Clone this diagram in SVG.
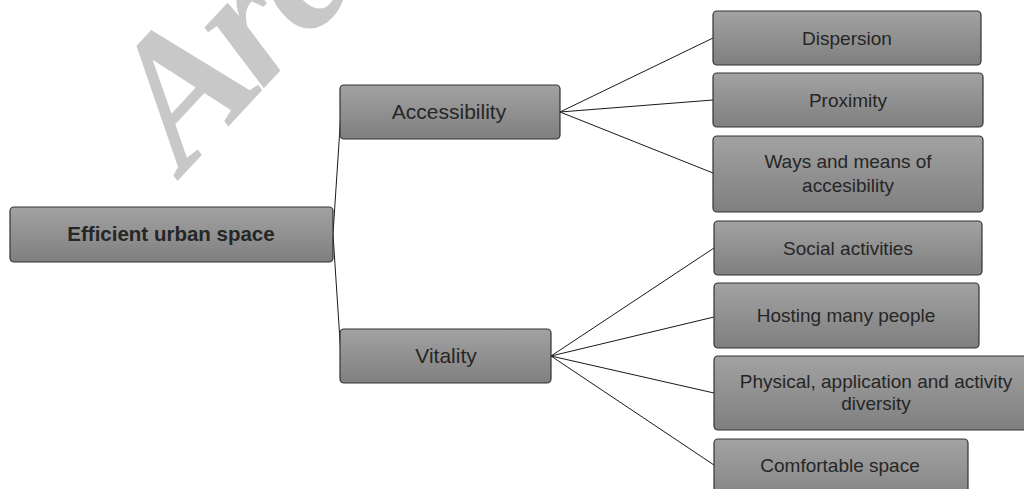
<svg xmlns="http://www.w3.org/2000/svg" width="1024" height="489" viewBox="0 0 1024 489">
<defs>
<linearGradient id="g" x1="0" y1="0" x2="0" y2="1">
<stop offset="0" stop-color="#a2a2a2"/>
<stop offset="1" stop-color="#7f7f7f"/>
</linearGradient>
<style>
.box{fill:url(#g);stroke:#333;stroke-width:1.2}
.t{font-family:"Liberation Sans",Arial,sans-serif;fill:#262626;text-anchor:middle}
.c{font-size:19px}
.m{font-size:21px}
.r{font-size:20.5px;font-weight:bold}
.ln{stroke:#1a1a1a;stroke-width:1;fill:none}
.wm{font-family:"Liberation Serif","Times New Roman",serif;font-weight:bold;font-style:italic;font-size:185px;fill:#c8c8c8}
</style>
</defs>
<rect width="1024" height="489" fill="#fff"/>
<text class="wm" transform="translate(184,174) rotate(-47)">A<tspan dx="-10">r</tspan><tspan dx="-4">c</tspan></text>
<g id="connectors">
<path class="ln" d="M333,234 L341,112 M333,234 L341,356"/>
<path class="ln" d="M560,112 L713,38 M560,112 L713,100 M560,112 L713,173"/>
<path class="ln" d="M551,356 L714,248 M551,356 L714,317 M551,356 L714,393 M551,356 L714,465"/>
</g>
<g id="root">
<rect class="box" x="10" y="207" width="323" height="55" rx="4"/>
<text class="t r" x="171" y="241">Efficient urban space</text>
</g>
<g id="accessibility">
<rect class="box" x="340" y="85" width="220" height="54" rx="4"/>
<text class="t m" x="449" y="119">Accessibility</text>
</g>
<g id="vitality">
<rect class="box" x="340" y="329" width="211" height="54" rx="4"/>
<text class="t m" x="446" y="363">Vitality</text>
</g>
<g id="dispersion">
<rect class="box" x="713" y="11" width="268" height="54" rx="4"/>
<text class="t c" x="847" y="45">Dispersion</text>
</g>
<g id="proximity">
<rect class="box" x="713" y="73" width="270" height="54" rx="4"/>
<text class="t c" x="848" y="107">Proximity</text>
</g>
<g id="ways">
<rect class="box" x="713" y="136" width="270" height="76" rx="4"/>
<text class="t c" x="848" y="168">Ways and means of</text>
<text class="t c" x="848" y="192">accesibility</text>
</g>
<g id="social">
<rect class="box" x="714" y="221" width="268" height="54" rx="4"/>
<text class="t c" x="848" y="255">Social activities</text>
</g>
<g id="hosting">
<rect class="box" x="714" y="283" width="265" height="65" rx="4"/>
<text class="t c" x="846" y="322">Hosting many people</text>
</g>
<g id="physical">
<rect class="box" x="714" y="356" width="335" height="74" rx="4"/>
<text class="t c" x="876" y="388">Physical, application and activity</text>
<text class="t c" x="876" y="410">diversity</text>
</g>
<g id="comfortable">
<rect class="box" x="714" y="439" width="254" height="70" rx="4"/>
<text class="t c" x="840" y="472">Comfortable space</text>
</g>
</svg>
